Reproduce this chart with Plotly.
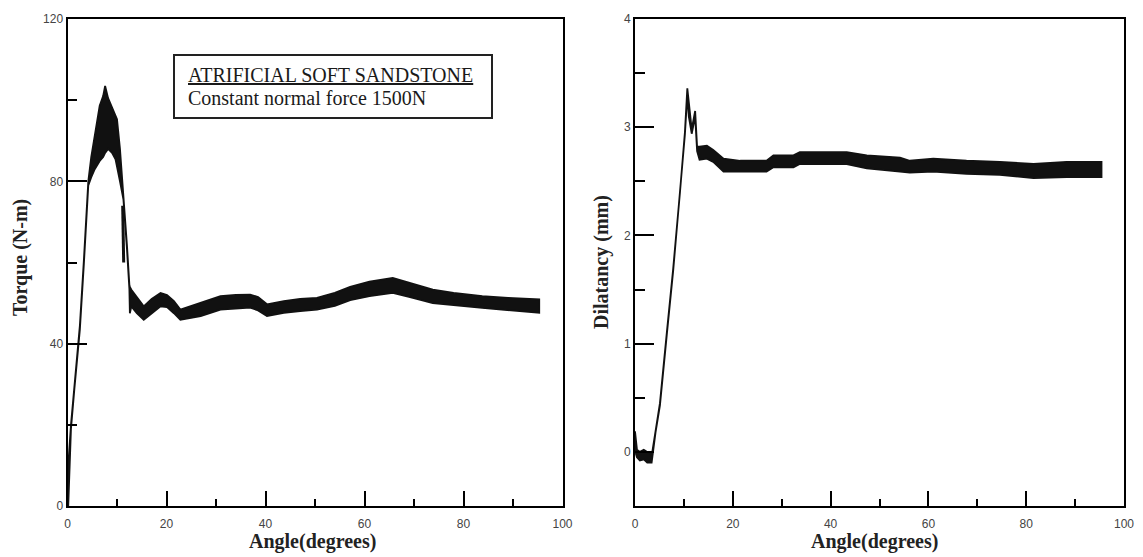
import plotly.graph_objects as go

# ---------------- data ----------------
# Left panel: torque band (upper / lower envelope of the noisy trace)
torque_angle = [0, 0.15, 0.7, 1.4, 2.5, 3.3, 4.2, 4.8, 5.5, 6.0, 6.5, 7.2, 7.6, 8.2, 9.0,
                9.7, 10.0, 10.6, 11.3, 12.0, 12.5, 12.6, 12.9, 14.0, 15.4, 17.0, 18.8,
                20.1, 21.5, 22.8, 25.0, 26.9, 30.9, 34.0, 36.9, 38.5, 40.3, 43.7, 47.0,
                50.4, 54.0, 57.1, 61.0, 65.7, 69.0, 73.8, 78.0, 83.8, 89.0, 95.3]
torque_upper = [0, 10, 20, 30, 44.5, 60.5, 80, 86, 91, 95, 98.6, 101, 103.5, 100.5, 98,
                96, 95.3, 88, 77, 64.5, 54.5, 54, 53.3, 51.5, 49.2, 51, 52.5,
                52, 50.5, 48.4, 49.3, 50.1, 51.7, 52, 52.1, 51.5, 49.7, 50.5, 51,
                51.3, 52.5, 54, 55.3, 56.2, 55, 53.3, 52.5, 51.7, 51.3, 50.9]
torque_lower = [0, 0, 19, 29, 43.5, 59.5, 79, 81, 83, 84, 85, 86, 87, 88, 87,
                85.4, 84, 80, 75.5, 63.5, 53.5, 47.5, 49.2, 47.5, 45.9, 47.5, 49.2,
                49, 47.5, 45.9, 46.3, 46.8, 48.4, 48.7, 48.9, 48.2, 46.8, 47.6, 48,
                48.4, 49.3, 50.7, 51.7, 52.5, 51.5, 50, 49.5, 48.8, 48.2, 47.6]
# thick stroke on the falling branch
torque_stroke_angle = [11.15, 11.35]
torque_stroke_value = [74, 60]

# Right panel: dilatancy band
dil_angle = [0, 0.2, 0.4, 1.0, 1.8, 2.5, 3.0, 3.4, 4.2, 5.1, 6.5, 7.8, 9.2, 10.2, 10.7,
             11.0, 11.6, 12.3, 12.7, 13.2, 14.7, 16.0, 18.1, 21.5, 26.9, 28.3, 32.4,
             33.7, 43.3, 47.4, 54.2, 56.2, 61.0, 67.8, 74.6, 81.5, 88.3, 95.4]
dil_upper = [0.19, 0.10, 0.02, 0.00, 0.02, 0.00, 0.00, -0.04, 0.20, 0.45, 1.10, 1.69, 2.40,
             2.95, 3.36, 3.25, 2.98, 3.15, 2.82, 2.82, 2.83, 2.79, 2.71, 2.69, 2.69, 2.74,
             2.74, 2.77, 2.77, 2.74, 2.72, 2.69, 2.71, 2.69, 2.68, 2.66, 2.68, 2.68]
dil_lower = [0.19, -0.02, -0.05, -0.08, -0.07, -0.10, -0.10, -0.10, 0.18, 0.43, 1.08, 1.67,
             2.38, 2.93, 3.30, 3.10, 2.94, 3.10, 2.78, 2.70, 2.71, 2.68, 2.59, 2.59, 2.59,
             2.63, 2.63, 2.66, 2.66, 2.62, 2.59, 2.58, 2.59, 2.57, 2.56, 2.53, 2.54, 2.54]

x_ticks = [0, 20, 40, 60, 80, 100]
torque_ticks = [0, 40, 80, 120]
dil_ticks = [0, 1, 2, 3, 4]

# ---------------- figure ----------------
W, H = 1143, 557
OFF = 8  # page body margin


def px(x):
    return (x - OFF) / W


def py(y):
    return 1 - (y - OFF) / H


fig = go.Figure()


def band(angle, upper, lower, xa, ya):
    xs = list(angle) + list(reversed(angle)) + [angle[0]]
    ys = list(upper) + list(reversed(lower)) + [upper[0]]
    return go.Scatter(x=xs, y=ys, mode="lines", fill="toself", fillcolor="#111111",
                      line=dict(color="#111111", width=1.8), xaxis=xa, yaxis=ya,
                      hoverinfo="skip", showlegend=False)


fig.add_trace(band(torque_angle, torque_upper, torque_lower, "x", "y"))
fig.add_trace(go.Scatter(x=torque_stroke_angle, y=torque_stroke_value, mode="lines",
                         line=dict(color="#111111", width=3), xaxis="x", yaxis="y",
                         showlegend=False, hoverinfo="skip"))
fig.add_trace(band(dil_angle, dil_upper, dil_lower, "x2", "y2"))

tickfont = dict(family="Liberation Sans, Arial, sans-serif", size=12, color="#444444")
ydom = [py(506), py(19)]

common_x = dict(range=[0, 100], tickvals=x_ticks, showline=True, mirror=True,
                linecolor="black", linewidth=2, ticks="inside", ticklen=15, tickwidth=2,
                tickcolor="black", showgrid=False, zeroline=False, tickfont=tickfont,
                automargin=False, ticklabelstandoff=6,
                minor=dict(dtick=10, ticks="inside", ticklen=7, tickwidth=2,
                           tickcolor="black", showgrid=False))
common_y = dict(showline=True, mirror=True, linecolor="black", linewidth=2,
                ticks="inside", ticklen=19, tickwidth=2, tickcolor="black",
                showgrid=False, zeroline=False, tickfont=tickfont, domain=ydom,
                automargin=False)

fig.update_layout(
    width=W, height=H,
    margin=dict(l=0, r=0, t=0, b=0, pad=0),
    paper_bgcolor="white", plot_bgcolor="white",
    showlegend=False,
    xaxis=dict(domain=[px(67.5), px(562.5)], anchor="y", **common_x),
    yaxis=dict(range=[0, 120], tickvals=torque_ticks, anchor="x",
               minor=dict(dtick=20, ticks="inside", ticklen=9, tickwidth=2,
                          tickcolor="black", showgrid=False), **common_y),
    xaxis2=dict(domain=[px(635), px(1124)], anchor="y2", **common_x),
    yaxis2=dict(range=[-0.5, 4], tickvals=dil_ticks, anchor="x2",
                minor=dict(dtick=0.5, ticks="inside", ticklen=10, tickwidth=2,
                           tickcolor="black", showgrid=False), **common_y),
)

titlefont = dict(family="Liberation Serif, Times New Roman, serif", size=20, color="#222222")
annos = [
    dict(text="<b>Angle(degrees)</b>", x=px(312), y=py(541)),
    dict(text="<b>Angle(degrees)</b>", x=px(874), y=py(541)),
    dict(text="<b>Torque (N-m)</b>", x=px(20), y=py(258), textangle=-90),
    dict(text="<b>Dilatancy (mm)</b>", x=px(601), y=py(262), textangle=-90),
]
for a in annos:
    fig.add_annotation(xref="paper", yref="paper", showarrow=False, font=titlefont,
                       xanchor="center", yanchor="middle", **a)

# info box
fig.add_shape(type="rect", xref="paper", yref="paper",
              x0=px(174), x1=px(492), y0=py(118), y1=py(55),
              line=dict(color="#222222", width=2), fillcolor="white")
boxfont = dict(family="Liberation Serif, Times New Roman, serif", size=20, color="#1a1a1a")
fig.add_annotation(xref="paper", yref="paper", showarrow=False, font=boxfont,
                   text="<u>ATRIFICIAL SOFT SANDSTONE</u>", x=px(186), y=py(75),
                   xanchor="left", yanchor="middle")
fig.add_annotation(xref="paper", yref="paper", showarrow=False, font=boxfont,
                   text="Constant normal force 1500N", x=px(186), y=py(98),
                   xanchor="left", yanchor="middle")

fig.write_html("out.html")
